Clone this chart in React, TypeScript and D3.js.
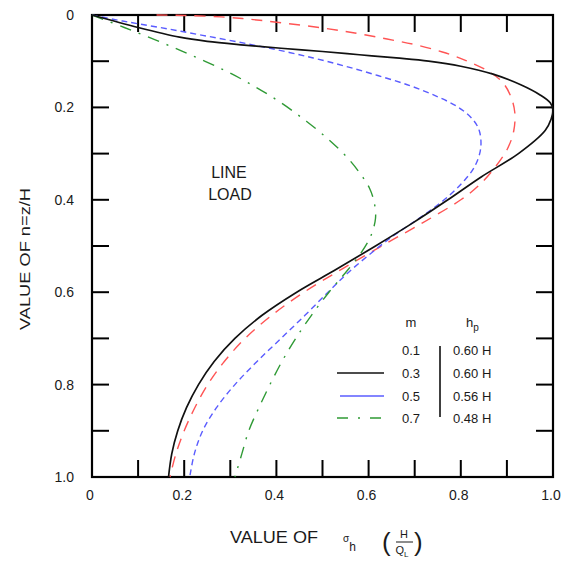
import React from "react";
import * as d3 from "d3";

// Horizontal pressure distribution behind a rigid wall from a surface line load.
// Each series: [sigma_h * H / Q_L, n = z/H]

const seriesM01: [number, number][] = [
  [0.14, 0.0], [0.2, 0.001], [0.28, 0.004], [0.35, 0.01], [0.42, 0.018],
  [0.5, 0.028], [0.57, 0.039], [0.64, 0.052], [0.7, 0.064], [0.76, 0.08],
  [0.81, 0.098], [0.86, 0.122], [0.89, 0.145], [0.908, 0.175], [0.917, 0.21],
  [0.915, 0.25], [0.901, 0.29], [0.87, 0.335], [0.838, 0.37], [0.8, 0.4],
  [0.717, 0.45], [0.628, 0.5], [0.542, 0.55], [0.46, 0.6], [0.39, 0.65],
  [0.332, 0.7], [0.287, 0.75], [0.251, 0.8], [0.223, 0.85], [0.2, 0.9],
  [0.182, 0.95], [0.169, 1.0],
];

const seriesM03: [number, number][] = [
  [0.0, 0.0], [0.1, 0.027], [0.19, 0.048], [0.25, 0.057], [0.33, 0.065],
  [0.41, 0.072], [0.5, 0.079], [0.58, 0.086], [0.66, 0.093], [0.73, 0.1],
  [0.8, 0.111], [0.87, 0.128], [0.93, 0.151], [0.972, 0.173], [0.994, 0.19],
  [1.0, 0.205], [0.996, 0.225], [0.983, 0.25], [0.925, 0.3], [0.845, 0.35],
  [0.772, 0.4], [0.696, 0.45], [0.615, 0.5], [0.531, 0.55], [0.444, 0.6],
  [0.369, 0.65], [0.31, 0.7], [0.265, 0.75], [0.231, 0.8], [0.205, 0.85],
  [0.186, 0.9], [0.173, 0.95], [0.166, 1.0],
];

const seriesM05: [number, number][] = [
  [0.0, 0.0], [0.05, 0.01], [0.1, 0.019], [0.17, 0.031], [0.24, 0.044],
  [0.32, 0.059], [0.4, 0.075], [0.48, 0.093], [0.55, 0.111], [0.62, 0.131],
  [0.69, 0.153], [0.75, 0.177], [0.795, 0.2], [0.825, 0.225], [0.84, 0.25],
  [0.843, 0.29], [0.829, 0.33], [0.806, 0.36], [0.776, 0.39], [0.738, 0.42],
  [0.695, 0.45], [0.651, 0.48], [0.6, 0.52], [0.553, 0.56], [0.512, 0.6],
  [0.462, 0.65], [0.41, 0.7], [0.358, 0.75], [0.31, 0.8], [0.27, 0.85],
  [0.24, 0.9], [0.222, 0.95], [0.212, 1.0],
];

const seriesM07: [number, number][] = [
  [0.0, 0.0], [0.07, 0.027], [0.15, 0.059], [0.22, 0.089], [0.29, 0.121],
  [0.35, 0.153], [0.41, 0.19], [0.465, 0.23], [0.515, 0.271], [0.555, 0.31],
  [0.583, 0.345], [0.602, 0.375], [0.612, 0.405], [0.615, 0.44], [0.604, 0.48],
  [0.58, 0.52], [0.548, 0.56], [0.514, 0.6], [0.476, 0.65], [0.442, 0.7],
  [0.412, 0.75], [0.386, 0.8], [0.362, 0.85], [0.34, 0.9], [0.325, 0.95],
  [0.31, 1.0],
];

const minorTicks = d3.range(0, 11).map((i) => i / 10);
const xTickLabels = ["0", "0.2", "0.4", "0.6", "0.8", "1.0"];
const yTickLabels = ["0", "0.2", "0.4", "0.6", "0.8", "1.0"];
const legendM = ["0.1", "0.3", "0.5", "0.7"];
const legendHp = ["0.60 H", "0.60 H", "0.56 H", "0.48 H"];

const FONT = "'Liberation Sans', Arial, Helvetica, sans-serif";
const TEXT = "#1a1a1a";

export default function App() {
  const W = 570;
  const H = 567;
  const left = 92;
  const right = 553;
  const top = 15;
  const bottom = 477;
  const tickLen = 17;

  const x = d3.scaleLinear().domain([0, 1]).range([left, right]);
  const y = d3.scaleLinear().domain([0, 1]).range([top, bottom]);

  const line = d3
    .line<[number, number]>()
    .x((d) => x(d[0]))
    .y((d) => y(d[1]))
    .curve(d3.curveCatmullRom.alpha(0.5));

  const curves = [
    { data: seriesM01, color: "#ff5454", dash: "11 8", width: 1.4 },
    { data: seriesM05, color: "#5a5cff", dash: "6 4", width: 1.4 },
    { data: seriesM07, color: "#2f9a35", dash: "12 8 2 8", width: 1.4 },
    { data: seriesM03, color: "#111", dash: undefined, width: 1.7 },
  ];

  const legendRowsY = [350, 373, 396, 418];

  return (
    <svg
      width={W}
      height={H}
      viewBox={`0 0 ${W} ${H}`}
      style={{ position: "absolute", left: 0, top: 0, background: "#fff" }}
    >
      {/* inward ticks on all four sides */}
      <g stroke="#000" strokeWidth={2}>
        {minorTicks.map((t) => (
          <g key={`t${t}`}>
            <line x1={x(t)} x2={x(t)} y1={bottom} y2={bottom - tickLen} />
            <line x1={x(t)} x2={x(t)} y1={top} y2={top + tickLen} />
            <line y1={y(t)} y2={y(t)} x1={left} x2={left + tickLen} />
            <line y1={y(t)} y2={y(t)} x1={right} x2={right - tickLen} />
          </g>
        ))}
        <rect
          x={left}
          y={top}
          width={right - left}
          height={bottom - top}
          fill="none"
          strokeWidth={2.2}
        />
      </g>

      {/* curves */}
      {curves.map((c, i) => (
        <path
          key={i}
          d={line(c.data) || ""}
          fill="none"
          stroke={c.color}
          strokeWidth={c.width}
          strokeDasharray={c.dash}
        />
      ))}

      {/* tick labels */}
      <g fontFamily={FONT} fontSize={14} fill={TEXT}>
        {yTickLabels.map((lab, i) => (
          <text key={`yl${i}`} x={74} y={y(i * 0.2)} textAnchor="end" dominantBaseline="central">
            {lab}
          </text>
        ))}
        {xTickLabels.map((lab, i) => (
          <text key={`xl${i}`} x={x(i * 0.2) - 2} y={500} textAnchor="middle">
            {lab}
          </text>
        ))}
      </g>

      {/* in-plot annotation */}
      <g fontFamily={FONT} fontSize={16} fill={TEXT} textAnchor="middle">
        <text x={229} y={178}>LINE</text>
        <text x={230} y={200}>LOAD</text>
      </g>

      {/* legend */}
      <g fontFamily={FONT} fontSize={13} fill={TEXT}>
        <text x={411} y={327} textAnchor="middle">m</text>
        <text x={466} y={327}>
          h<tspan fontSize={10} dy={4}>p</tspan>
        </text>
        {legendM.map((m, i) => (
          <text key={`m${i}`} x={402} y={legendRowsY[i] + 5}>{m}</text>
        ))}
        {legendHp.map((h, i) => (
          <text key={`h${i}`} x={453} y={legendRowsY[i] + 5}>{h}</text>
        ))}
      </g>
      <line x1={440} x2={440} y1={346} y2={417} stroke="#000" strokeWidth={1.5} />
      <line x1={337} x2={384} y1={legendRowsY[1]} y2={legendRowsY[1]} stroke="#111" strokeWidth={1.5} />
      <line x1={340} x2={384} y1={legendRowsY[2]} y2={legendRowsY[2]} stroke="#5a5cff" strokeWidth={1.5} />
      <line
        x1={337}
        x2={384}
        y1={legendRowsY[3]}
        y2={legendRowsY[3]}
        stroke="#2f9a35"
        strokeWidth={1.5}
        strokeDasharray="11 10 2 10"
      />

      {/* axis titles */}
      <text
        x={24}
        y={259}
        transform="rotate(-90 24 259)"
        fontFamily={FONT}
        fontSize={15}
        fill={TEXT}
        textAnchor="middle"
        dominantBaseline="central"
        textLength={142}
        lengthAdjust="spacingAndGlyphs"
      >
        VALUE OF n=z/H
      </text>

      <g fontFamily={FONT} fill={TEXT}>
        <text x={230} y={543} fontSize={16} textLength={88} lengthAdjust="spacingAndGlyphs">
          VALUE OF
        </text>
        <text x={343} y={542} fontSize={10}>
          σ<tspan fontSize={12} dy={9}>h</tspan>
        </text>
        <text x={382} y={551} fontSize={26} fontWeight={300}>(</text>
        <text x={404} y={538} fontSize={11} textAnchor="middle">H</text>
        <line x1={396} x2={413} y1={542} y2={542} stroke={TEXT} strokeWidth={1} />
        <text x={402} y={554} fontSize={11} textAnchor="middle">
          Q<tspan fontSize={8} dy={3}>L</tspan>
        </text>
        <text x={414} y={551} fontSize={26} fontWeight={300}>)</text>
      </g>
    </svg>
  );
}
